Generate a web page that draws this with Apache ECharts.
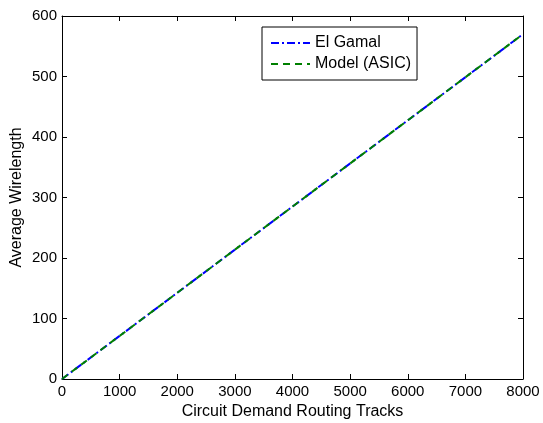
<!DOCTYPE html>
<html>
<head>
<meta charset="utf-8">
<script src="https://cdn.jsdelivr.net/npm/echarts@6/dist/echarts.min.js"></script>
<style>
  html, body { margin: 0; padding: 0; background: #fff; }
  #chart { width: 543px; height: 423px; }
</style>
</head>
<body>
<div id="chart"></div>
<script>
  // data
  const tracks = [0, 8000];
  const elGamal = [0, 570];
  const modelAsic = [0, 570];

  const font = 'Liberation Sans, Arial, Helvetica, sans-serif';
  const chart = echarts.init(document.getElementById('chart'));

  const pairs = (xs, ys) => xs.map((x, i) => [x, ys[i]]);

  function axis(extra) {
    return Object.assign({
      type: 'value',
      min: 0,
      axisLine: { show: true, onZero: false, lineStyle: { color: '#000', width: 1 } },
      axisTick: { show: true, inside: true, length: 5, lineStyle: { color: '#000', width: 1 } },
      splitLine: { show: false },
      axisLabel: { color: '#000', fontSize: 15, fontFamily: font, margin: 5, formatter: v => String(v) }
    }, extra);
  }

  chart.setOption({
    animation: false,
    grid: { left: 62, right: 20, top: 16, bottom: 44, outerBoundsMode: 'none', containLabel: false },
    legend: {
      orient: 'vertical',
      left: 262,
      top: 27,
      itemGap: 5,
      itemWidth: 39,
      itemHeight: 14,
      padding: [8, 6, 8, 8],
      borderColor: '#000',
      borderWidth: 1,
      backgroundColor: '#fff',
      itemStyle: { opacity: 0 },
      textStyle: { color: '#000', fontSize: 16, fontFamily: font },
      data: ['El Gamal', 'Model (ASIC)']
    },
    xAxis: [
      axis({
        max: 8000, interval: 1000, position: 'bottom',
        name: 'Circuit Demand Routing Tracks', nameLocation: 'middle', nameGap: 22,
        nameTextStyle: { color: '#000', fontSize: 16, fontFamily: font }
      }),
      axis({ max: 8000, interval: 1000, position: 'top', axisLabel: { show: false } })
    ],
    yAxis: [
      axis({
        max: 600, interval: 100, position: 'left',
        name: 'Average Wirelength', nameLocation: 'middle', nameGap: 37, nameMoveOverlap: false,
        nameTextStyle: { color: '#000', fontSize: 16, fontFamily: font }
      }),
      axis({ max: 600, interval: 100, position: 'right', axisLabel: { show: false } })
    ],
    series: [
      {
        name: 'El Gamal', type: 'line', symbol: 'none',
        data: pairs(tracks, elGamal),
        lineStyle: { color: '#0000ff', width: 2, type: [8, 3, 2, 3] },
        itemStyle: { color: '#0000ff' }
      },
      {
        name: 'Model (ASIC)', type: 'line', symbol: 'none',
        data: pairs(tracks, modelAsic),
        lineStyle: { color: '#008000', width: 2, type: [7, 5] },
        itemStyle: { color: '#008000' }
      }
    ]
  });
</script>
</body>
</html>
